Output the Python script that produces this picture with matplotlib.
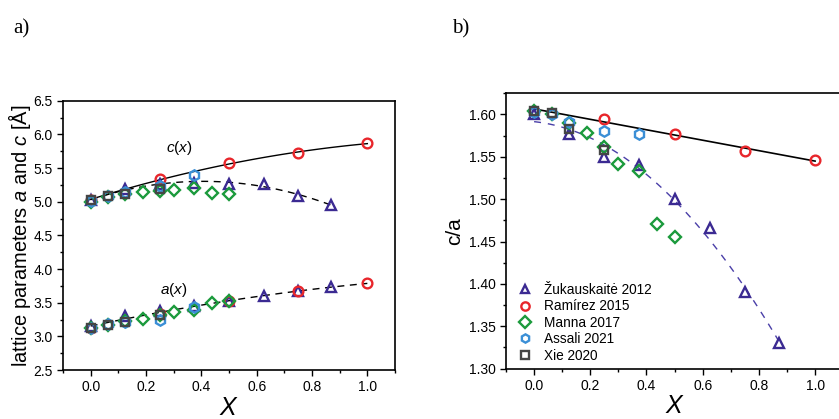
import numpy as np
import matplotlib
matplotlib.use("Agg")
import matplotlib.pyplot as plt
from matplotlib.ticker import MultipleLocator, FormatStrFormatter

plt.rcParams['font.family'] = ['Liberation Sans', 'DejaVu Sans']
plt.rcParams['mathtext.fontset'] = 'custom'
plt.rcParams['mathtext.it'] = 'Liberation Sans:italic'
plt.rcParams['mathtext.rm'] = 'Liberation Sans'

# ---- data -------------------------------------------------------------
# Žukauskaitė 2012
zuk_x = [0.0, 0.125, 0.25, 0.375, 0.5, 0.625, 0.75, 0.87]
zuk_c = [5.02, 5.19, 5.27, 5.28, 5.27, 5.26, 5.09, 4.95]
zuk_a = [3.15, 3.30, 3.38, 3.45, 3.52, 3.60, 3.67, 3.73]
zuk_ca = [1.600, 1.577, 1.550, 1.540, 1.500, 1.466, 1.390, 1.330]

# Ramírez 2015
ram_x = [0.0, 0.25, 0.5, 0.75, 1.0]
ram_c = [5.03, 5.33, 5.57, 5.72, 5.87]
ram_a = [3.13, 3.33, 3.52, 3.68, 3.79]
ram_ca = [1.604, 1.595, 1.577, 1.557, 1.546]

# Manna 2017
man_x = [0.0, 0.0625, 0.125, 0.1875, 0.25, 0.3, 0.375, 0.4375, 0.5]
man_c = [5.00, 5.07, 5.11, 5.14, 5.16, 5.18, 5.20, 5.13, 5.12]
man_a = [3.12, 3.17, 3.23, 3.26, 3.32, 3.36, 3.39, 3.49, 3.52]
man_ca = [1.604, 1.601, 1.590, 1.578, 1.562, 1.541, 1.533, 1.471, 1.455]

# Assali 2021
ass_x = [0.0, 0.0625, 0.125, 0.25, 0.375]
ass_c = [5.01, 5.09, 5.14, 5.24, 5.40]
ass_a = [3.13, 3.18, 3.22, 3.25, 3.43]
ass_ca = [1.603, 1.600, 1.591, 1.581, 1.577]

# Xie 2020
xie_x = [0.0, 0.0625, 0.125, 0.25]
xie_c = [5.02, 5.08, 5.11, 5.19]
xie_a = [3.13, 3.17, 3.21, 3.32]
xie_ca = [1.604, 1.602, 1.583, 1.558]

series = [
    ("Žukauskaitė 2012", zuk_x, zuk_c, zuk_a, zuk_ca, '^', '#3b2a92'),
    ("Ramírez 2015", ram_x, ram_c, ram_a, ram_ca, 'o', '#e8262b'),
    ("Manna 2017", man_x, man_c, man_a, man_ca, 'D', '#1b9a3c'),
    ("Assali 2021", ass_x, ass_c, ass_a, ass_ca, 'h', '#3b8fd6'),
    ("Xie 2020", xie_x, xie_c, xie_a, xie_ca, 's', '#454545'),
]

# ---- figure -----------------------------------------------------------
fig = plt.figure(figsize=(8.39, 4.19), dpi=100)
axL = fig.add_axes([0.0751, 0.1169, 0.3957, 0.6428])
axR = fig.add_axes([0.6031, 0.1201, 0.4019, 0.6572])

msize = {'^': 7.5, 'o': 7.0, 'D': 6.0, 'h': 7.5, 's': 5.5}

def style_axes(ax):
    for s in ax.spines.values():
        s.set_linewidth(1.2)
    ax.tick_params(which='both', direction='out', width=1.0, labelsize=10)
    ax.tick_params(which='major', length=4)
    ax.tick_params(which='minor', length=2.5)
    ax.xaxis.set_major_locator(MultipleLocator(0.2))
    ax.xaxis.set_minor_locator(MultipleLocator(0.1))
    ax.set_xlim(-0.1, 1.1)
    ax.set_xlabel(r'$\mathit{X}$', fontsize=18, labelpad=1)

# fitted guide curves
xs_full = np.linspace(0, 1, 100)
xs_zuk = np.linspace(0, 0.87, 100)

fit_c_ram = np.polyfit(ram_x, ram_c, 2)
fit_c_zuk = np.polyfit(zuk_x, zuk_c, 2)
fit_a_all = np.polyfit(zuk_x + ram_x, zuk_a + ram_a, 2)
fit_ca_ram = np.polyfit(ram_x, ram_ca, 1)
fit_ca_zuk = np.polyfit(zuk_x, zuk_ca, 2)

axL.plot(xs_full, np.polyval(fit_c_ram, xs_full), color='black', lw=1.0, zorder=2)
axL.plot(xs_zuk, np.polyval(fit_c_zuk, xs_zuk), color='black', lw=1.0,
         dashes=(5, 4), zorder=2)
axL.plot(xs_full, np.polyval(fit_a_all, xs_full), color='black', lw=1.0,
         dashes=(5, 4), zorder=2)

axR.plot(xs_full, np.polyval(fit_ca_ram, xs_full), color='black', lw=1.2, zorder=2)
axR.plot(xs_zuk, np.polyval(fit_ca_zuk, xs_zuk), color='#4a3fa8', lw=1.0,
         dashes=(5, 5), zorder=2)

for label, x, c, a, ca, m, col in series:
    kw = dict(ls='none', marker=m, ms=msize[m], mfc='none', mec=col, mew=1.7, zorder=3)
    axL.plot(x, c, **kw)
    axL.plot(x, a, **kw)
    axR.plot(x, ca, label=label, **kw)

style_axes(axL)
axL.set_ylim(2.5, 6.5)
axL.yaxis.set_major_locator(MultipleLocator(0.5))
axL.yaxis.set_minor_locator(MultipleLocator(0.25))
axL.yaxis.set_major_formatter(FormatStrFormatter('%.1f'))
axL.set_ylabel(r'lattice parameters $\mathit{a}$ and $\mathit{c}$ [Å]', fontsize=14.5, labelpad=0)
axL.text(0.32, 5.80, r'$\mathit{c(x)}$', fontsize=11, ha='center', va='center')
axL.text(0.30, 3.69, r'$\mathit{a(x)}$', fontsize=11, ha='center', va='center')

style_axes(axR)
axR.set_ylim(1.30, 1.625)
axR.yaxis.set_major_locator(MultipleLocator(0.05))
axR.yaxis.set_minor_locator(MultipleLocator(0.025))
axR.yaxis.set_major_formatter(FormatStrFormatter('%.2f'))
axR.set_ylabel('c/a', fontsize=15, labelpad=3)

leg = axR.legend(loc='lower left', bbox_to_anchor=(0.033, 0.022), frameon=False,
                 fontsize=9.8, handletextpad=0.75, labelspacing=0.18,
                 borderaxespad=0.0, borderpad=0.0, handlelength=1.2)
for h in leg.legend_handles:
    h.set_markersize(6.0)

fig.text(0.016, 0.93, 'a)', fontsize=15, family='Liberation Serif', va='center')
fig.text(0.539, 0.93, 'b)', fontsize=15, family='Liberation Serif', va='center')

fig.savefig('out.png', dpi=100)
